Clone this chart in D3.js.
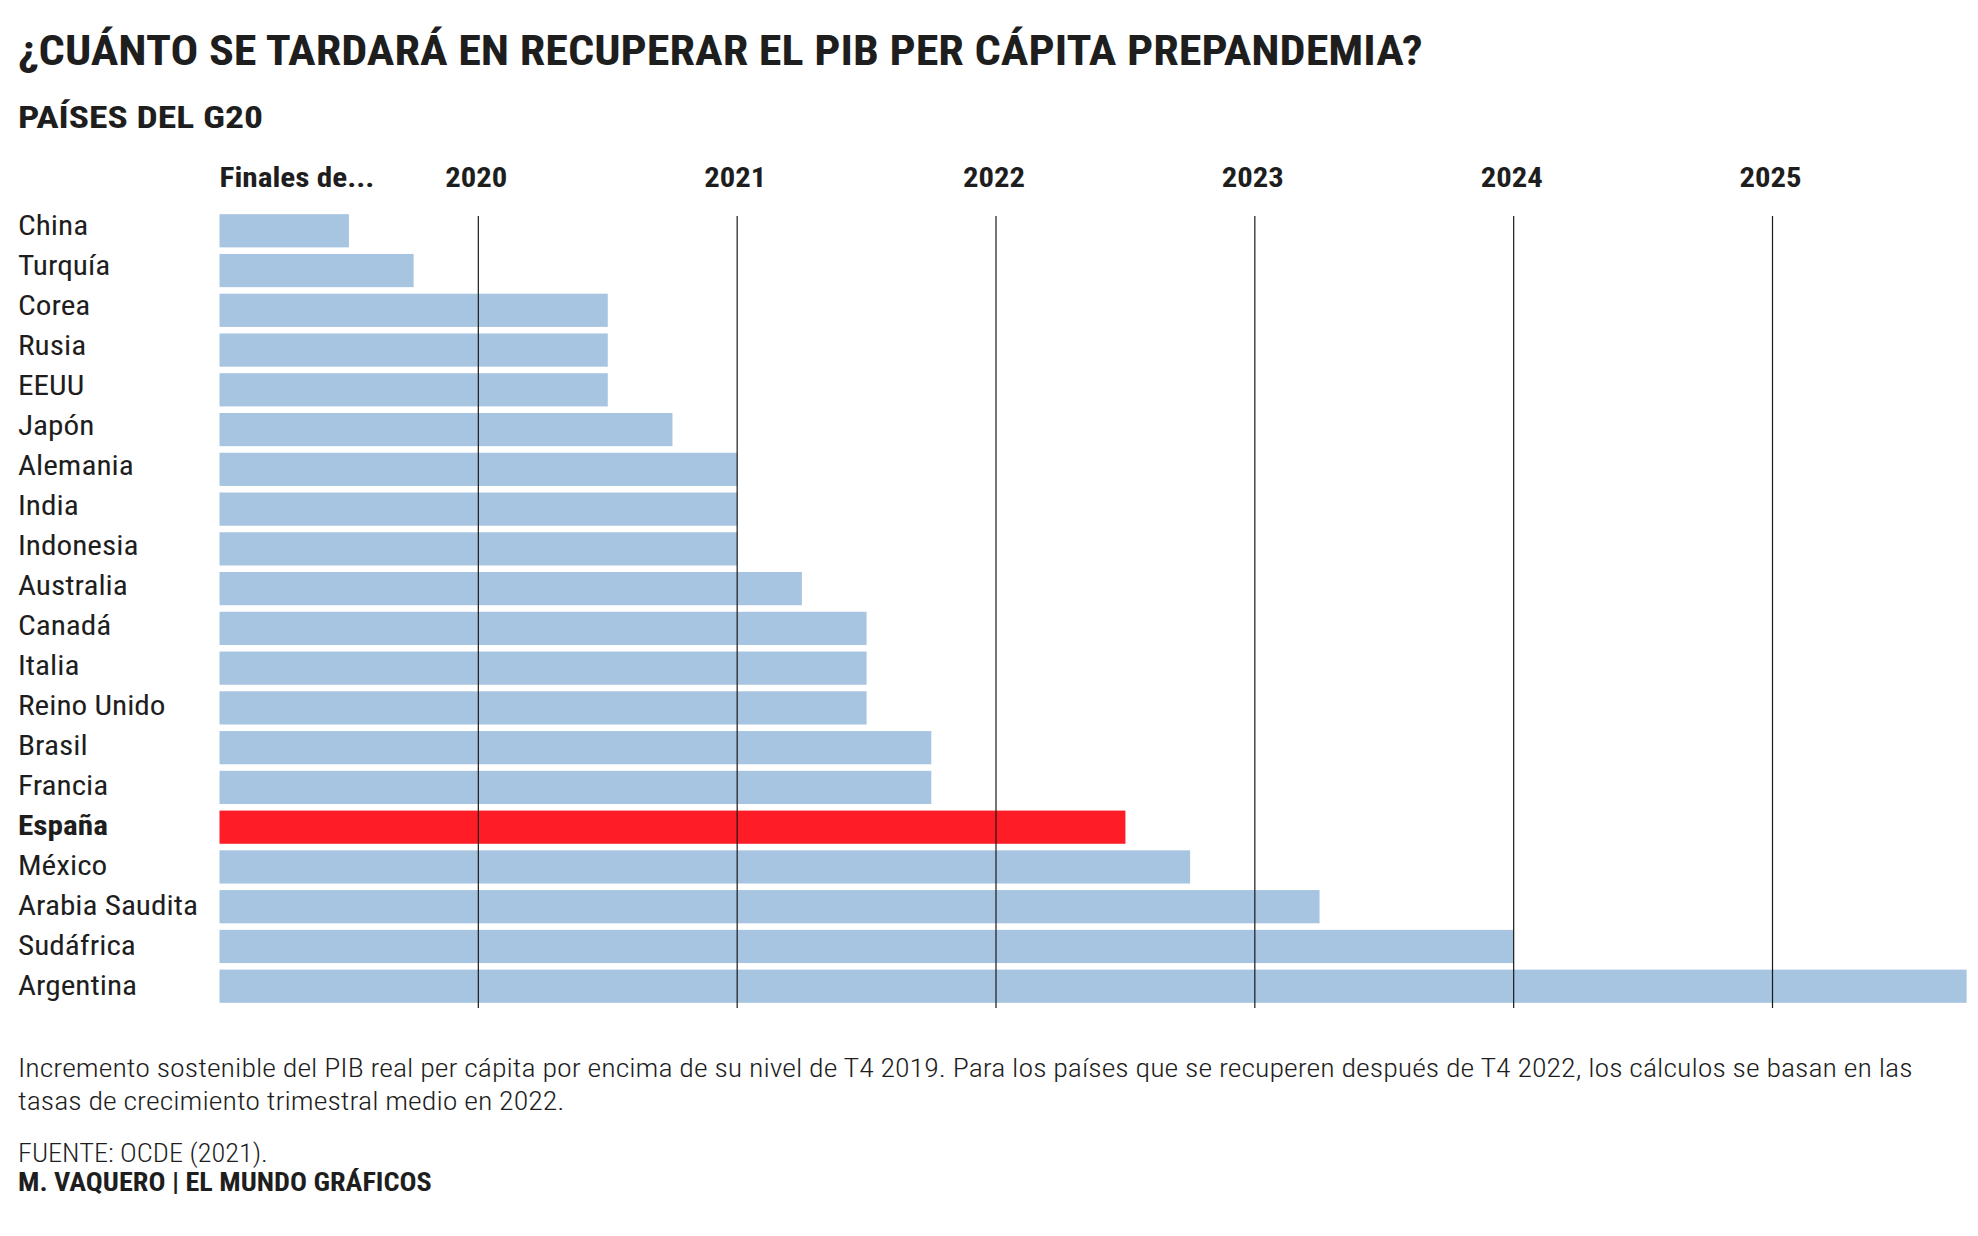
<!DOCTYPE html>
<html>
<head>
<meta charset="utf-8">
<script src="https://cdn.jsdelivr.net/npm/d3@7"></script>
<style>
  body { margin: 0; background: #fff; }
  svg text { font-family: "Roboto Condensed", Roboto, sans-serif; fill: #1e1e1e; }
</style>
</head>
<body>
<div id="chart"></div>
<script>
// data (years end at the gridline; 2019 = T4 2019)
var countries = ["China", "Turquía", "Corea", "Rusia", "EEUU", "Japón", "Alemania", "India",
  "Indonesia", "Australia", "Canadá", "Italia", "Reino Unido", "Brasil", "Francia", "España",
  "México", "Arabia Saudita", "Sudáfrica", "Argentina"];
var recovery = [2019.5, 2019.75, 2020.5, 2020.5, 2020.5, 2020.75, 2021, 2021, 2021, 2021.25,
  2021.5, 2021.5, 2021.5, 2021.75, 2021.75, 2022.5, 2022.75, 2023.25, 2024, 2025.75];
var years = [2020, 2021, 2022, 2023, 2024, 2025];
var highlight = "España";

var W = 1978, H = 1236;

var svg = d3.select("#chart")
  .append("svg")
    .attr("width", W)
    .attr("height", H);

svg.append("rect").attr("width", W).attr("height", H).attr("fill", "#fff");

// condense text horizontally by factor k (no condensed font installed)
function squeezeBy(sel, k) {
  sel.each(function () {
    var t = d3.select(this);
    var x = +t.attr("x"), y = +t.attr("y");
    t.attr("x", 0).attr("y", 0)
      .attr("transform", "translate(" + x + "," + y + ") scale(" + k + ",1)");
  });
}
// condense a single text so it spans the given width
function squeeze(sel, width) {
  sel.each(function () {
    squeezeBy(d3.select(this), width / this.getComputedTextLength());
  });
}
function ratioFor(str, size, weight, width) {
  var tmp = svg.append("text").style("font-size", size + "px").style("font-weight", weight).text(str);
  var k = width / tmp.node().getComputedTextLength();
  tmp.remove();
  return k;
}

// titles
svg.append("text")
  .attr("x", 18).attr("y", 65)
  .style("font-size", "43px").style("font-weight", 700)
  .text("¿CUÁNTO SE TARDARÁ EN RECUPERAR EL PIB PER CÁPITA PREPANDEMIA?")
  .call(squeeze, 1405);

svg.append("text")
  .attr("x", 18).attr("y", 128)
  .style("font-size", "31px").style("font-weight", 700)
  .text("PAÍSES DEL G20")
  .call(squeeze, 245);

// scales
var x = d3.scaleLinear()
  .domain([2019, 2025])
  .range([219.5, 1772.5]);

var y = d3.scaleBand()
  .domain(countries)
  .range([211, 1006])
  .paddingInner(0.165)
  .paddingOuter(0.08);

// label baselines run on a slightly wider pitch than the bars
var yLab = d3.scalePoint()
  .domain(countries)
  .range([235, 995]);

// bars
svg.append("g")
  .selectAll("rect")
  .data(countries)
  .enter()
  .append("rect")
    .attr("x", x(2019))
    .attr("y", function (d) { return y(d); })
    .attr("width", function (d, i) { return x(recovery[i]) - x(2019); })
    .attr("height", y.bandwidth())
    .attr("fill", function (d) { return d === highlight ? "#fe1d27" : "#a7c4e1"; });

// gridlines over the bars, one per year end
svg.append("g")
  .selectAll("line")
  .data(years)
  .enter()
  .append("line")
    .attr("x1", function (d) { return x(d); })
    .attr("x2", function (d) { return x(d); })
    .attr("y1", 216)
    .attr("y2", 1008)
    .attr("stroke", "#1a1a1a")
    .attr("stroke-width", 1.2);

// top axis labels
svg.append("text")
  .attr("x", x(2019)).attr("y", 187)
  .style("font-size", "27px").style("font-weight", 700)
  .text("Finales de...")
  .call(squeeze, 155);

var kYear = ratioFor("2020", 27, 700, 62);
svg.append("g")
  .selectAll("text")
  .data(years)
  .enter()
  .append("text")
    .attr("x", function (d) { return x(d) - 2; })
    .attr("y", 187)
    .attr("text-anchor", "middle")
    .style("font-size", "27px").style("font-weight", 700)
    .text(function (d) { return d; })
    .call(squeezeBy, kYear);

// country labels
var kLab = ratioFor("Arabia Saudita", 28, 400, 180);
svg.append("g")
  .selectAll("text")
  .data(countries)
  .enter()
  .append("text")
    .attr("x", 18)
    .attr("y", function (d) { return yLab(d); })
    .style("font-size", "28px")
    .style("font-weight", function (d) { return d === highlight ? 700 : 400; })
    .text(function (d) { return d; })
    .call(squeezeBy, kLab);

// footnote
var note1 = "Incremento sostenible del PIB real per cápita por encima de su nivel de T4 2019. Para los países que se recuperen después de T4 2022, los cálculos se basan en las";
var note2 = "tasas de crecimiento trimestral medio en 2022.";
var kNote = ratioFor(note1, 26, 300, 1895);
svg.append("text").attr("x", 18).attr("y", 1077)
  .style("font-size", "26px").style("font-weight", 300)
  .text(note1).call(squeezeBy, kNote);
svg.append("text").attr("x", 18).attr("y", 1110)
  .style("font-size", "26px").style("font-weight", 300)
  .text(note2).call(squeezeBy, kNote);

svg.append("text").attr("x", 18).attr("y", 1162)
  .style("font-size", "26px").style("font-weight", 300)
  .text("FUENTE: OCDE (2021).").call(squeeze, 250);
svg.append("text").attr("x", 18).attr("y", 1191)
  .style("font-size", "26px").style("font-weight", 700)
  .text("M. VAQUERO | EL MUNDO GRÁFICOS").call(squeeze, 414);
</script>
</body>
</html>
